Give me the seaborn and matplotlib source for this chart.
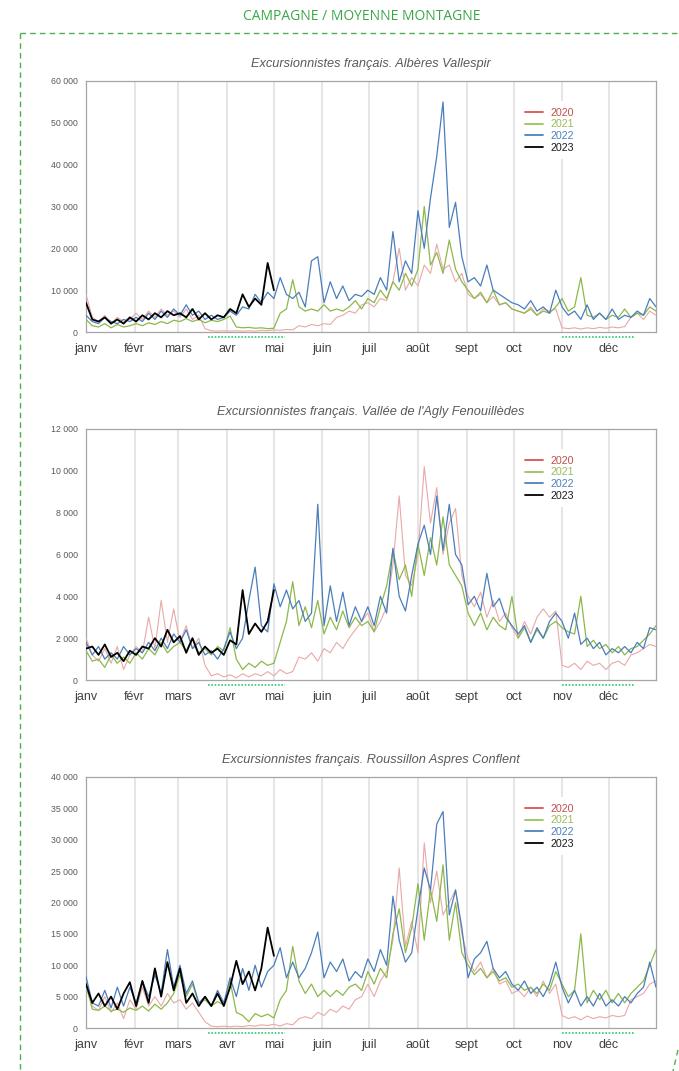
import numpy as np
import pandas as pd
import matplotlib
matplotlib.use("Agg")
import matplotlib.pyplot as plt
import matplotlib.transforms as mtransforms
from matplotlib.lines import Line2D
from matplotlib.ticker import FuncFormatter
import seaborn as sns

# --- data: one value every 4 days (day 0 = 1 Jan) ---
STEP = 4
years = ["2020", "2021", "2022", "2023"]
month_labels = ["janv", "févr", "mars", "avr", "mai", "juin",
                "juil", "août", "sept", "oct", "nov", "déc"]
month_starts = [0, 31, 59, 90, 120, 151, 181, 212, 243, 273, 304, 334]

titles = ["Excursionnistes français. Albères Vallespir",
          "Excursionnistes français. Vallée de l'Agly Fenouillèdes",
          "Excursionnistes français. Roussillon Aspres Conflent"]
y_max = [60000, 12000, 40000]
y_step = [10000, 2000, 5000]

# confinement periods (days) marked under the x axis
lockdowns = [(78, 127), (304, 350)]

albr_2020 = [9000, 3500, 2500, 4000, 2000, 3500, 2500, 3000, 4500, 3000, 5000, 3500, 5500, 4000, 5000,
             3500, 5500, 3000, 4000, 800, 300, 200, 300, 200, 300, 200, 300, 200, 400, 300,
             500, 400, 600, 500, 1500, 1200, 1800, 1500, 2000, 1800, 3500, 4000, 5000, 4500, 6500, 7000,
             6000, 8000, 7500, 12000, 20000, 10000, 13000, 11000, 16000, 14000, 21000, 15000, 16000, 12000, 14000,
             9000, 8000, 9000, 7000, 8500, 6500, 7000, 5500, 5000, 4500, 6000, 4000, 5500, 5000, 5500,
             1000, 800, 1000, 700, 1000, 800, 1100, 900, 1200, 1000, 1300, 3500, 4500, 3000, 5000, 4000]
albr_2021 = [3000, 1500, 1200, 2000, 1000, 1800, 1200, 1500, 2000, 1500, 2200, 1800, 2500, 2000, 2800,
             2500, 3200, 2500, 3000, 2200, 2800, 2500, 3000, 3800, 1200, 1000, 1100, 900, 1000, 800,
             900, 4500, 5500, 12500, 6000, 5000, 5500, 5000, 6500, 5000, 5500, 5000, 6000, 7500, 5500, 8000,
             7000, 10000, 8000, 12000, 10000, 14000, 11000, 15000, 30000, 16000, 19000, 14000, 22000, 15000, 12000,
             10000, 8000, 9500, 7000, 10000, 6500, 7000, 5500, 5000, 4500, 5500, 4000, 5000, 4500, 6000,
             8000, 5000, 6000, 13000, 4000, 3500, 4500, 3000, 4000, 3500, 5500, 3500, 4500, 4000, 6000, 5000]
albr_2022 = [4000, 2500, 2000, 3500, 2500, 2000, 3000, 2500, 3500, 2500, 4500, 3000, 5000, 3500, 5500,
             4000, 6500, 4000, 5000, 3000, 4000, 3000, 3500, 5000, 4000, 6000, 5500, 9000, 7000, 9500,
             8000, 13000, 9000, 8000, 9500, 6000, 17000, 18000, 7000, 12000, 8000, 11000, 7500, 9000, 8500, 10000,
             9000, 13000, 10000, 24000, 12000, 17000, 14000, 29000, 20000, 32000, 42000, 55000, 25000, 31000, 18000,
             12000, 13000, 11000, 16000, 10000, 9000, 8000, 7000, 6500, 5500, 7500, 5000, 6000, 4500, 10000,
             6000, 4000, 5000, 3000, 6500, 3000, 4500, 3000, 5500, 3000, 4000, 3500, 5000, 4000, 8000, 6000]
albr_2023 = [7000, 3000, 2500, 3500, 2000, 3000, 2000, 3500, 2500, 4000, 3000, 4500, 3500, 5000, 4000,
             4500, 3500, 5500, 3000, 4500, 3000, 4000, 3500, 5500, 4500, 9000, 6000, 8000, 6500, 16500, 10000]

agly_2020 = [2000, 1200, 900, 1500, 800, 1600, 500, 1200, 1600, 1300, 3000, 1500, 3800, 1800, 3400,
             1800, 2600, 1500, 2000, 700, 200, 300, 150, 250, 100, 300, 150, 300, 200, 400,
             200, 500, 300, 400, 1100, 1000, 1300, 900, 1500, 1300, 1800, 1500, 2000, 2400, 2800, 3200,
             2300, 2800, 3500, 5500, 8800, 5000, 4500, 6000, 10200, 7500, 9200, 6000, 7500, 8200, 5000,
             4000, 3500, 4200, 3000, 3800, 2800, 3200, 2500, 2000, 2800, 2200, 3000, 3400, 3000, 3300,
             700, 600, 800, 500, 900, 700, 800, 500, 800, 900, 700, 1200, 1300, 1500, 1700, 1600]
agly_2021 = [1400, 900, 1000, 600, 1200, 800, 1100, 800, 1300, 1000, 1500, 1200, 1800, 1300, 1600,
             1800, 1400, 2000, 1300, 1500, 1200, 1600, 1400, 2500, 1000, 500, 800, 600, 900, 700,
             800, 1800, 2800, 4700, 2600, 3500, 2500, 3800, 2200, 3000, 2400, 3300, 2500, 3000, 2600, 2800,
             2300, 3500, 4500, 6200, 4800, 5500, 4000, 6500, 5000, 6800, 5500, 7800, 5500, 5000, 4500,
             3200, 2600, 3200, 2400, 3000, 2600, 2400, 4000, 2000, 2500, 1800, 2400, 2000, 2600, 2800,
             2500, 2300, 2200, 4000, 1600, 1900, 1500, 1700, 1300, 1600, 1200, 1500, 1600, 1900, 2200, 2600]
agly_2022 = [1800, 1200, 1600, 1000, 1300, 1000, 1600, 1200, 1500, 1300, 1800, 1400, 2000, 1500, 2200,
             1800, 2400, 1500, 1800, 1200, 1400, 1000, 1500, 2300, 1500, 2000, 3800, 5400, 2600, 2300,
             4600, 3500, 4300, 3400, 3800, 2800, 3200, 8400, 2600, 4500, 2800, 4200, 2600, 3500, 2800, 3500,
             2600, 4000, 3200, 6300, 4000, 3300, 5000, 6500, 7400, 6000, 8800, 6200, 8400, 6000, 5500,
             3600, 4000, 3300, 5100, 3500, 3900, 3000, 2600, 2200, 2600, 1800, 2500, 2000, 2800, 3200,
             2800, 2000, 3200, 1700, 2000, 1500, 1800, 1200, 1500, 1300, 1600, 1300, 1800, 1500, 2500, 2400]
agly_2023 = [1500, 1600, 1200, 1700, 1100, 1300, 900, 1400, 1200, 1600, 1500, 2000, 1600, 2400, 1800,
             2100, 1300, 2000, 1200, 1600, 1300, 1500, 1200, 1900, 1700, 4300, 2200, 2700, 2300, 2800, 4300]

rous_2020 = [6500, 3500, 2800, 5000, 2500, 4000, 1500, 4500, 3000, 6500, 3500, 5000, 3500, 5500, 4000,
             4500, 3000, 4000, 2500, 1000, 300, 200, 300, 200, 300, 200, 400, 300, 500, 400,
             600, 300, 700, 500, 1500, 1800, 1500, 2500, 2000, 3000, 2500, 3500, 3000, 4500, 5000, 7000,
             5000, 7500, 9000, 14000, 25500, 13000, 17000, 12000, 29500, 20000, 25000, 18000, 20000, 22000, 15000,
             11000, 9000, 10500, 8000, 9500, 7000, 7500, 5500, 6000, 5000, 6500, 5000, 7500, 5500, 7000,
             2000, 1500, 1800, 1300, 1900, 1500, 1800, 1600, 2000, 1800, 2000, 4500, 5000, 5500, 7000, 7500]
rous_2021 = [7000, 3000, 2800, 3500, 2700, 3000, 2500, 3200, 2800, 3500, 2700, 3800, 3000, 4000, 5500,
             8500, 5000, 7000, 4000, 4500, 3500, 4200, 3700, 7500, 2500, 2000, 1000, 2300, 1800, 2200,
             1600, 4500, 6000, 13000, 7500, 5500, 7000, 5000, 6000, 5000, 6000, 5200, 6500, 7000, 6000, 9000,
             7000, 9500, 8000, 15000, 19000, 12000, 16000, 23000, 14000, 22000, 17000, 26000, 14000, 20000, 12000,
             10000, 8500, 9500, 8000, 9000, 7500, 8000, 6500, 7000, 6000, 6500, 5500, 7000, 6000, 9000,
             7000, 5000, 6000, 15000, 4000, 6000, 4500, 6000, 4000, 5500, 4000, 5500, 6500, 7500, 10000, 12500]
rous_2022 = [8200, 4000, 3500, 6000, 3200, 6500, 3500, 6500, 4000, 7500, 5000, 8500, 5500, 12500, 6500,
             10000, 5500, 7500, 4000, 5000, 3500, 6000, 4000, 8000, 5000, 9500, 6000, 10000, 6500, 9000,
             10000, 12800, 8000, 10500, 8000, 9500, 12000, 15300, 8000, 10500, 9000, 11000, 7500, 9000, 8000, 11000,
             9000, 12500, 10000, 21000, 14000, 10500, 12000, 19000, 25500, 22000, 32500, 34500, 18000, 22000, 16000,
             8000, 11000, 12000, 13800, 9500, 8000, 9000, 7000, 6000, 7500, 5500, 6500, 5000, 7000, 10500,
             6500, 4000, 6000, 3500, 5000, 3500, 5500, 3500, 4500, 3500, 5000, 4000, 5500, 6500, 10500, 6500]
rous_2023 = [7000, 4000, 5500, 3500, 5000, 3000, 5500, 7300, 3500, 7500, 4000, 9500, 5000, 10500, 6000,
             9500, 4000, 5500, 3500, 5000, 3500, 5500, 3500, 6500, 10700, 7000, 9000, 6000, 9500, 16000, 11500]

panels = [
    [albr_2020, albr_2021, albr_2022, albr_2023],
    [agly_2020, agly_2021, agly_2022, agly_2023],
    [rous_2020, rous_2021, rous_2022, rous_2023],
]

# --- style ---
sns.set_style("white")
plt.rcParams["font.family"] = ["Liberation Sans", "DejaVu Sans"]

line_colors = {"2020": "#e8a9a7", "2021": "#8db84a", "2022": "#4a7ebb", "2023": "#000000"}
legend_colors = {"2020": "#d9534f", "2021": "#9bc25c", "2022": "#4f81bd", "2023": "#000000"}
text_colors = {"2020": "#c0504d", "2021": "#9bbb59", "2022": "#4f81bd", "2023": "#1a1a1a"}
line_widths = {"2020": 0.8, "2021": 0.9, "2022": 0.9, "2023": 1.3}
green = "#3aa648"

fig = plt.figure(figsize=(6.79, 10.71), dpi=100)

fig.text(0.533, 0.985, "CAMPAGNE / MOYENNE MONTAGNE", ha="center", va="center",
         fontsize=10, color=green, family=["Open Sans", "DejaVu Sans"])

# dashed frame (top + left, plus the corner piece bottom right)
W, H = 679, 1071
frame_kw = dict(color="#4cb050", lw=1.0, ls=(0, (4, 3)), transform=fig.transFigure)
fig.add_artist(Line2D([20 / W, 1.0], [1 - 33 / H, 1 - 33 / H], **frame_kw))
fig.add_artist(Line2D([20 / W, 20 / W], [1 - 33 / H, 0.0], **frame_kw))
fig.add_artist(Line2D([678 / W, 673 / W], [1 - 1050 / H, 1 - 1071 / H], **frame_kw))

left, width = 86 / W, 570 / W
tops = [81, 429, 777]
ax_h = 251 / H

thousands = FuncFormatter(lambda v, p: f"{int(v):,}".replace(",", " "))

for k, series in enumerate(panels):
    ax = fig.add_axes([left, 1 - (tops[k] + 251) / H, width, ax_h])

    for yr, vals in zip(years, series):
        days = np.arange(len(vals)) * STEP
        df = pd.DataFrame({"day": days, "value": vals})
        sns.lineplot(data=df, x="day", y="value", ax=ax, color=line_colors[yr],
                     lw=line_widths[yr], zorder=3)

    ax.set_xlim(0, 364)
    ax.set_ylim(0, y_max[k])
    ax.set_xticks(month_starts)
    ax.set_xticklabels(month_labels, fontsize=9, color="#404040")
    ax.set_yticks(np.arange(0, y_max[k] + 1, y_step[k]))
    ax.yaxis.set_major_formatter(thousands)
    ax.tick_params(axis="y", labelsize=6.3, colors="#595959", length=0, pad=6)
    ax.tick_params(axis="x", length=0, pad=8)
    ax.set_xlabel("")
    ax.set_ylabel("")
    ax.grid(axis="x", color="#e0e0e0", lw=1.2, zorder=0)
    ax.grid(axis="y", visible=False)
    for s in ax.spines.values():
        s.set_color("#a6a6a6")
        s.set_linewidth(0.9)

    ax.set_title(titles[k], fontsize=9.2, style="italic", color="#595959", pad=10)

    # green dotted confinement markers under the axis
    trans = mtransforms.blended_transform_factory(ax.transData, ax.transAxes)
    for a, b in lockdowns:
        ax.plot([a, b], [-0.02, -0.02], transform=trans, color="#2ecc71",
                lw=1.2, ls=(0, (1, 1)), clip_on=False)

    handles = [Line2D([], [], color=legend_colors[y], lw=1.3) for y in years]
    leg = ax.legend(handles, years, loc="upper left", bbox_to_anchor=(0.75, 0.94),
                    fontsize=7.7, frameon=True, facecolor="white", edgecolor="none",
                    framealpha=1, handlelength=1.7, labelspacing=0.15,
                    handletextpad=0.7, borderpad=0.6)
    leg.set_zorder(5)
    for txt, y in zip(leg.get_texts(), years):
        txt.set_color(text_colors[y])

fig.savefig("out.png", dpi=100)
